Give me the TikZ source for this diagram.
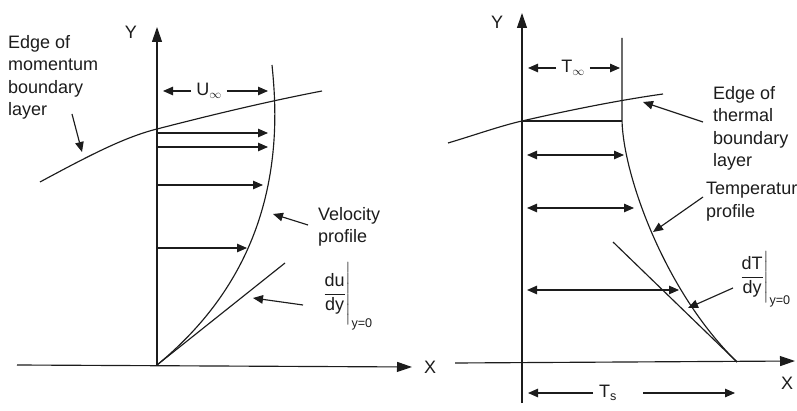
\documentclass[tikz,border=0pt]{standalone}
\usepackage{amsmath}
\usepackage{fontspec}
\setmainfont{Liberation Sans}
\usetikzlibrary{arrows.meta, calc}
\definecolor{sketchInk}{RGB}{28,28,28}
\tikzset{
  % axes and the lines of the two plots
  axis/.style={-{Triangle[length=15pt,width=10pt]}, draw=sketchInk, line width=1.15pt},
  edgeline/.style={draw=sketchInk, line width=1.15pt},
  % arrows
  flow/.style={-{Triangle[length=10pt,width=8.5pt]}, draw=sketchInk, line width=1.15pt},
  biflow/.style={{Triangle[length=10pt,width=8.5pt]}-{Triangle[length=10pt,width=8.5pt]},
                 draw=sketchInk, line width=1.15pt},
  % texts
  lbl/.style={font=\fontsize{18}{22.5}\selectfont, text=sketchInk, inner sep=0pt, align=left},
  axlbl/.style={font=\fontsize{18}{22}\selectfont, text=sketchInk, inner sep=0pt},
  deriv/.style={font=\fontsize{18}{21}\selectfont, text=sketchInk, inner sep=0pt},
}

\begin{document}
\begin{tikzpicture}[x=1pt, y=-1pt]
\useasboundingbox (0,0) rectangle (797,411);

% ===================== momentum boundary layer =====================
\coordinate (vo)    at (157,365);
\coordinate (vytop) at (157,27);
\coordinate (vxl)   at (17,365);
\coordinate (vxr)   at (412,367);
\draw[axis] (vo)  -- (vytop);
\draw[axis] (vxl) -- (vxr);
\node[axlbl] (vylab) at (131,32)  {Y};
\node[axlbl] (vxlab) at (430,367) {X};

% velocity profile and its slope at the wall
\coordinate (vtop) at (272,65);
\coordinate (vtan) at (285,263);
\draw[edgeline] (vo) .. controls (230,305) and (268,230) .. (274,140)
      .. controls (276,110) and (274,85) .. (vtop);
\draw[edgeline] (vo) -- (vtan);

% edge of the momentum layer
\coordinate (medgeA) at (40,182);
\coordinate (medgeB) at (157,129);
\coordinate (medgeC) at (322,91);
\draw[edgeline] (medgeA) .. controls (90,155) and (125,137) .. (medgeB)
      .. controls (215,114) and (270,101) .. (medgeC);

\node[lbl] (uinf) at (209,91) {U$_\infty$};
\coordinate (uL) at (163,91);
\coordinate (uR) at (268,91);
\draw[flow] ($(uinf.west)+(-5,0)$) -- (uL);
\draw[flow] ($(uinf.east)+(5,0)$)  -- (uR);

\foreach \yy/\xx in {133/268, 147/268, 185/263, 248/247}
  \draw[flow] (157,\yy) -- (\xx,\yy);

\node[lbl, anchor=north west] (medgetxt) at (8,35) {Edge of\\momentum\\boundary\\layer};
\draw[flow] (72,114) -- (82,152);

\node[lbl, anchor=north west] (veltxt) at (318,207) {Velocity\\profile};
\draw[flow] (308,225) -- (273,214);

\node[deriv, anchor=west] (dudy) at (322,296)
      {$\left.\dfrac{\text{du}}{\text{dy}}\vphantom{\rule[-29pt]{0pt}{66pt}}\right|_{\text{y=0}}$};
\draw[flow] (303,305) -- (253,298);

% ===================== thermal boundary layer ======================
\coordinate (to)    at (522,403);
\coordinate (tytop) at (522,13);
\coordinate (txl)   at (455,363);
\coordinate (txr)   at (795,361);
\draw[axis] (to)  -- (tytop);
\draw[axis] (txl) -- (txr);
\node[axlbl] (tylab) at (497,22)  {Y};
\node[axlbl] (txlab) at (787,383) {X};

% temperature profile and its slope at the wall
\coordinate (ttop)  at (622,38);
\coordinate (twall) at (737,362);
\coordinate (ttan)  at (613,242);
\draw[edgeline] (ttop) -- (622,120) .. controls (623,175) and (665,292) .. (twall);
\draw[edgeline] (ttan) -- (twall);

% edge of the thermal layer
\coordinate (tedgeA) at (448,143);
\coordinate (tedgeB) at (522,121);
\coordinate (tedgeC) at (663,94);
\draw[edgeline] (tedgeA) .. controls (475,135) and (500,126) .. (tedgeB)
      .. controls (570,110) and (620,100) .. (tedgeC);
\draw[edgeline] (tedgeB) -- (622,121);

\node[lbl] (tinf) at (573,68) {T$_\infty$};
\coordinate (tL) at (528,68);
\coordinate (tR) at (620,68);
\draw[flow] ($(tinf.west)+(-5,0)$) -- (tL);
\draw[flow] ($(tinf.east)+(5,0)$)  -- (tR);

\foreach \yy/\xx in {155/624, 208/634, 290/679}
  \draw[biflow] (527,\yy) -- (\xx,\yy);

\node[lbl] (tsurf) at (608,393) {T\textsubscript{s}};
\draw[flow] (593,393) -- (528,393);
\draw[flow] (643,393) -- (735,393);

\node[lbl, anchor=north west] (tedgetxt) at (713,86) {Edge of\\thermal\\boundary\\layer};
\draw[flow] (703,122) -- (643,102);

\node[lbl, anchor=north west] (temptxt) at (706,182) {Temperature\\profile};
\draw[flow] (703,197) -- (653,232);

\node[deriv, anchor=west] (dtdy) at (739,279)
      {$\left.\dfrac{\text{dT}}{\text{dy}}\vphantom{\rule[-22pt]{0pt}{50pt}}\right|_{\text{y=0}}$};
\draw[flow] (733,288) -- (688,308);

\end{tikzpicture}
\end{document}
